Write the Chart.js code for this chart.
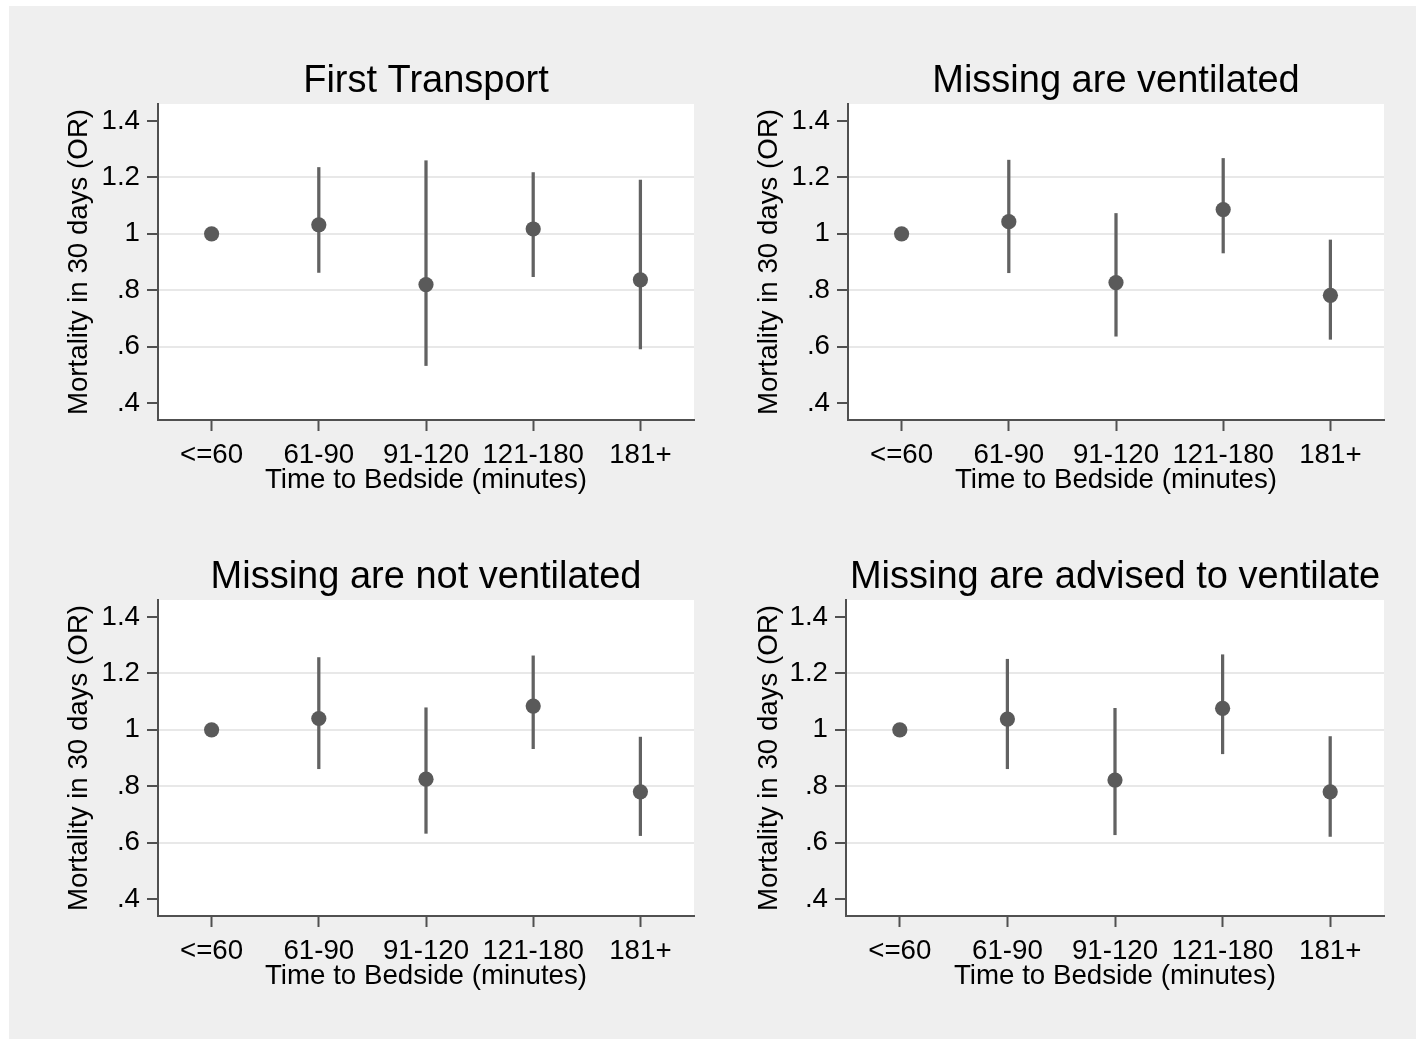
<!DOCTYPE html>
<html>
<head>
<meta charset="utf-8">
<script src="https://cdn.jsdelivr.net/npm/chart.js@4"></script>
<style>
  body { margin: 0; background: #fff; width: 1416px; height: 1039px; position: relative; overflow: hidden; }
  #bg { position: absolute; left: 9px; top: 6px; width: 1407px; height: 1033px; background: #efefef; }
  canvas { position: absolute; }
</style>
</head>
<body>
<div id="bg"></div>
<canvas id="p1" width="708" height="520" style="left:0;top:0"></canvas>
<canvas id="p2" width="708" height="520" style="left:708px;top:0"></canvas>
<canvas id="p3" width="708" height="520" style="left:0;top:496px"></canvas>
<canvas id="p4" width="708" height="520" style="left:708px;top:496px"></canvas>
<script>
let categories = ['<=60', '61-90', '91-120', '121-180', '181+'];
let yTickValues = [1.4, 1.2, 1.0, 0.8, 0.6, 0.4];
let yTickLabels = ['1.4', '1.2', '1', '.8', '.6', '.4'];

// odds ratios with 95% CI (reference group has none)
let firstTransportOR   = [1, 1.032, 0.820, 1.017, 0.837];
let firstTransportLow  = [null, 0.863, 0.533, 0.848, 0.592];
let firstTransportHigh = [null, 1.235, 1.259, 1.217, 1.190];

let ventilatedOR   = [1, 1.043, 0.827, 1.086, 0.782];
let ventilatedLow  = [null, 0.862, 0.637, 0.932, 0.626];
let ventilatedHigh = [null, 1.261, 1.072, 1.267, 0.978];

let notVentilatedOR   = [1, 1.040, 0.825, 1.084, 0.780];
let notVentilatedLow  = [null, 0.862, 0.633, 0.933, 0.625];
let notVentilatedHigh = [null, 1.256, 1.078, 1.262, 0.974];

let advisedOR   = [1, 1.038, 0.822, 1.076, 0.780];
let advisedLow  = [null, 0.862, 0.628, 0.915, 0.622];
let advisedHigh = [null, 1.250, 1.076, 1.266, 0.976];

let fontFamily = "'Liberation Sans', Arial, sans-serif";
let labelSize = 27.7;

let whiteArea = {
    id: 'whiteArea',
    beforeDraw(chart) {
        let a = chart.chartArea;
        chart.ctx.save();
        chart.ctx.fillStyle = '#ffffff';
        chart.ctx.fillRect(a.left, a.top, a.right - a.left, a.bottom - a.top);
        chart.ctx.restore();
    }
};

function makePanel(id, title, or, low, high, plotLeft, plotRight, yTitleX) {
    let ci = low.map((l, i) => l === null ? null : [l, high[i]]);
    return new Chart(document.getElementById(id), {
        type: 'bar',
        data: {
            labels: categories,
            datasets: [{
                type: 'line',
                data: or,
                showLine: false,
                pointRadius: 7.6,
                pointHoverRadius: 7.6,
                pointBorderWidth: 0,
                pointBackgroundColor: '#5a5a5a',
                order: 0
            }, {
                data: ci,
                backgroundColor: '#626262',
                barThickness: 2.6,
                borderWidth: 0,
                order: 1
            }]
        },
        options: {
            responsive: false,
            animation: false,
            devicePixelRatio: 1,
            layout: { padding: { left: 0, top: 0, right: 708 - plotRight, bottom: 25 } },
            plugins: {
                legend: { display: false },
                tooltip: { enabled: false },
                title: {
                    display: true,
                    text: title,
                    fullSize: false,
                    color: '#000',
                    font: { family: fontFamily, size: 38, weight: 'normal', lineHeight: 1 },
                    padding: { top: 62.5, bottom: 3.5 }
                }
            },
            scales: {
                x: {
                    offset: true,
                    afterFit(scale) { scale.height = 75; },
                    grid: { offset: false, color: 'rgba(0,0,0,0)', tickColor: '#505050', tickWidth: 2, tickLength: 11 },
                    border: { color: '#505050', width: 2 },
                    ticks: {
                        color: '#000',
                        padding: 10.5,
                        autoSkip: false,
                        maxRotation: 0,
                        minRotation: 0,
                        font: { family: fontFamily, size: labelSize, lineHeight: 1 }
                    },
                    title: {
                        display: true,
                        text: 'Time to Bedside (minutes)',
                        color: '#000',
                        font: { family: fontFamily, size: labelSize, lineHeight: 1 },
                        padding: { top: 0, bottom: 0.5 }
                    }
                },
                y: {
                    min: 0.34,
                    max: 1.46,
                    afterFit(scale) { scale.width = plotLeft; },
                    afterBuildTicks(scale) { scale.ticks = yTickValues.map(v => ({ value: v })); },
                    grid: {
                        color: ctx => (ctx.tick && (ctx.tick.value > 1.39 || ctx.tick.value < 0.41)) ? 'rgba(0,0,0,0)' : '#e8e8e8',
                        lineWidth: 2,
                        tickColor: '#505050',
                        tickWidth: 2,
                        tickLength: 11
                    },
                    border: { color: '#505050', width: 2 },
                    ticks: {
                        color: '#000',
                        padding: 7,
                        font: { family: fontFamily, size: labelSize, lineHeight: 1 },
                        callback: (value, index) => yTickLabels[index]
                    },
                    title: {
                        display: true,
                        text: 'Mortality in 30 days (OR)',
                        color: '#000',
                        font: { family: fontFamily, size: labelSize, lineHeight: 1 },
                        padding: { top: yTitleX - labelSize / 2, bottom: 0 }
                    }
                }
            }
        },
        plugins: [whiteArea]
    });
}

makePanel('p1', 'First Transport', firstTransportOR, firstTransportLow, firstTransportHigh, 158, 694, 79);
makePanel('p2', 'Missing are ventilated', ventilatedOR, ventilatedLow, ventilatedHigh, 140, 676, 61);
makePanel('p3', 'Missing are not ventilated', notVentilatedOR, notVentilatedLow, notVentilatedHigh, 158, 694, 79);
makePanel('p4', 'Missing are advised to ventilate', advisedOR, advisedLow, advisedHigh, 138, 676, 61);
</script>
</body>
</html>
